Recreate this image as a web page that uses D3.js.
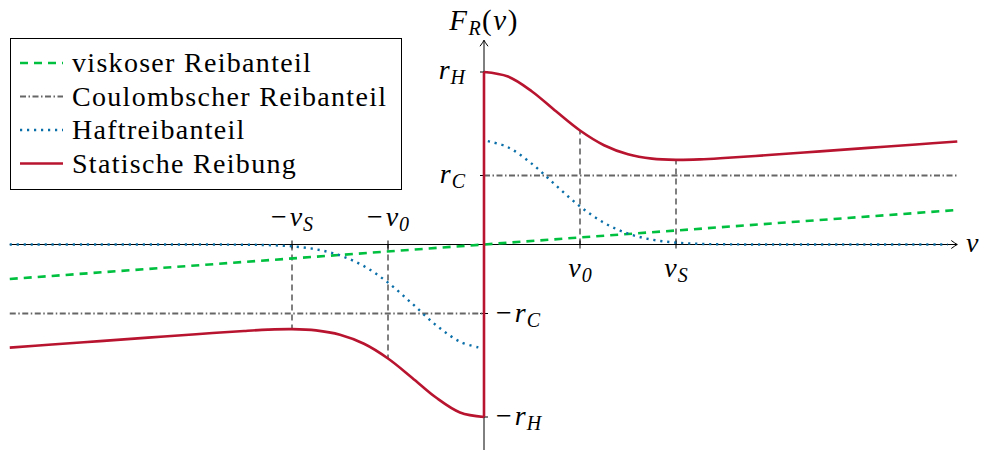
<!DOCTYPE html>
<html>
<head>
<meta charset="utf-8">
<script src="https://cdn.jsdelivr.net/npm/d3@7"></script>
<style>
  body { margin: 0; background: #fff; }
  svg { display: block; }
</style>
</head>
<body>
<svg id="chart"></svg>
<script>
// ---- data (v in units of v0, force in units of r_C) ----
const v0 = 1, vS = 2, rC = 1, rH = 2.5;

const vViskos = [-4.94, 4.93];
const fViskos = [-0.5, 0.5];

const vCoulLeft = [-4.94, 0];
const fCoulLeft = [-1, -1];
const vCoulRight = [0, 4.93];
const fCoulRight = [1, 1];

const vHaftLeft = [-4.94, -4, -3, -2.5, -2.25, -2, -1.75, -1.5, -1.25, -1, -0.75, -0.5, -0.25, -0.04];
const fHaftLeft = [0, 0, 0, -0.003, -0.009, -0.027, -0.070, -0.158, -0.314, -0.552, -0.855, -1.168, -1.409, -1.498];
const vHaftRight = [0.04, 0.25, 0.5, 0.75, 1, 1.25, 1.5, 1.75, 2, 2.25, 2.5, 3, 4, 4.83];
const fHaftRight = [1.498, 1.409, 1.168, 0.855, 0.552, 0.314, 0.158, 0.070, 0.027, 0.009, 0.003, 0, 0, 0];

const vStatLeft = [-4.94, -4.5, -4, -3.5, -3, -2.5, -2.25, -2, -1.75, -1.5, -1.25, -1, -0.75, -0.5, -0.25, 0];
const fStatLeft = [-1.494, -1.450, -1.400, -1.350, -1.300, -1.253, -1.234, -1.227, -1.245, -1.308, -1.439, -1.652, -1.930, -2.218, -2.434, -2.5];
const vStatRight = [0, 0.25, 0.5, 0.75, 1, 1.25, 1.5, 1.75, 2, 2.25, 2.5, 3, 3.5, 4, 4.5, 4.93];
const fStatRight = [2.5, 2.434, 2.218, 1.930, 1.652, 1.439, 1.308, 1.245, 1.227, 1.234, 1.253, 1.300, 1.350, 1.400, 1.450, 1.493];

// dashed helper lines: position on v axis and where they meet the red curve
const guideV = [-2, -1, 1, 2];
const guideF = [-1.227, -1.652, 1.652, 1.227];

// tick labels
const xTickLabels = [
  { v: -vS, main: "−v", sub: "S", above: true },
  { v: -v0, main: "−v", sub: "0", above: true },
  { v: v0, main: "v", sub: "0", above: false },
  { v: vS, main: "v", sub: "S", above: false }
];
const yTickLabels = [
  { f: rH, main: "r", sub: "H", left: true },
  { f: rC, main: "r", sub: "C", left: true },
  { f: -rC, main: "−r", sub: "C", left: false },
  { f: -rH, main: "−r", sub: "H", left: false }
];

const legendItems = [
  { label: "viskoser Reibanteil", color: "#00c040", dash: "8,6", width: 2.6 },
  { label: "Coulombscher Reibanteil", color: "#666666", dash: "6,2.5,1.5,2.5", width: 2.2 },
  { label: "Haftreibanteil", color: "#0a6fa8", dash: "2.2,4.8", width: 2.4 },
  { label: "Statische Reibung", color: "#b8142f", dash: null, width: 2.6 }
];

// ---- layout ----
const width = 984, height = 450;
const FONT = "'Liberation Serif', 'DejaVu Serif', 'Times New Roman', Times, serif";
const svg = d3.select("#chart").attr("width", width).attr("height", height)
  .attr("font-family", FONT);

const x = d3.scaleLinear().domain([0, 2]).range([484, 676]);
const y = d3.scaleLinear().domain([0, 1]).range([244.5, 175.5]);

const line = d3.line().x(d => x(d[0])).y(d => y(d[1]));
const smooth = d3.line().x(d => x(d[0])).y(d => y(d[1])).curve(d3.curveCatmullRom.alpha(0.5));
const zip = (a, b) => a.map((v, i) => [v, b[i]]);

// ---- axes ----
const axes = svg.append("g").attr("stroke", "#000").attr("fill", "none").attr("stroke-width", 1);
const xEnd = x(4.93), yTop = y(2.96);
axes.append("line").attr("x1", x(-4.94)).attr("x2", xEnd).attr("y1", y(0)).attr("y2", y(0));
axes.append("line").attr("x1", x(0)).attr("x2", x(0)).attr("y1", height).attr("y2", yTop);
// arrow heads
axes.append("path")
  .attr("d", `M${xEnd - 6},${y(0) - 4} Q${xEnd - 2},${y(0) - 1} ${xEnd},${y(0)} Q${xEnd - 2},${y(0) + 1} ${xEnd - 6},${y(0) + 4}`);
axes.append("path")
  .attr("d", `M${x(0) - 4},${yTop + 6} Q${x(0) - 1},${yTop + 2} ${x(0)},${yTop} Q${x(0) + 1},${yTop + 2} ${x(0) + 4},${yTop + 6}`);

// ticks
guideV.forEach(v => {
  axes.append("line").attr("x1", x(v)).attr("x2", x(v)).attr("y1", y(0) - 4).attr("y2", y(0) + 4);
});
yTickLabels.forEach(t => {
  axes.append("line").attr("x1", x(0) - 4).attr("x2", x(0) + 4).attr("y1", y(t.f)).attr("y2", y(t.f));
});

// guide lines
guideV.forEach((v, i) => {
  svg.append("line")
    .attr("x1", x(v)).attr("x2", x(v))
    .attr("y1", y(0)).attr("y2", y(guideF[i]))
    .attr("stroke", "#000").attr("stroke-width", 1)
    .attr("stroke-dasharray", "6,4");
});

// ---- series ----
function drawSeries(pts, item, curve) {
  const p = svg.append("path")
    .attr("d", (curve ? smooth : line)(pts))
    .attr("fill", "none")
    .attr("stroke", item.color)
    .attr("stroke-width", item.width);
  if (item.dash) p.attr("stroke-dasharray", item.dash);
  return p;
}

drawSeries(zip(vViskos, fViskos), legendItems[0], false);
drawSeries(zip(vCoulLeft, fCoulLeft), legendItems[1], false);
drawSeries(zip(vCoulRight, fCoulRight), legendItems[1], false);
drawSeries(zip(vHaftLeft, fHaftLeft), legendItems[2], true);
drawSeries(zip(vHaftRight, fHaftRight), legendItems[2], true);
drawSeries(zip(vStatLeft, fStatLeft), legendItems[3], true);
drawSeries([[0, -rH], [0, rH]], legendItems[3], false);
drawSeries(zip(vStatRight, fStatRight), legendItems[3], true);

// ---- labels ----
const fs = 28, subFs = 20;
function mathLabel(g, xPos, yPos, anchor, main, sub) {
  const t = g.append("text")
    .attr("x", xPos).attr("y", yPos)
    .attr("text-anchor", anchor)
    .attr("font-family", FONT)
    .attr("font-size", fs);
  const parts = main.split("−");
  if (main.startsWith("−")) t.append("tspan").text("−").attr("dx", 0);
  t.append("tspan").attr("font-style", "italic").attr("dx", main.startsWith("−") ? 3 : 0)
    .text(parts[parts.length - 1]);
  if (sub) {
    t.append("tspan").attr("font-style", "italic").attr("font-size", subFs).attr("dy", 5).attr("dx", 1).text(sub);
  }
  return t;
}

const labels = svg.append("g");
xTickLabels.forEach(t => {
  mathLabel(labels, x(t.v), t.above ? y(0) - 19 : y(0) + 32, "middle", t.main, t.sub);
});
yTickLabels.forEach(t => {
  if (t.left) mathLabel(labels, x(0) - 19, y(t.f) + 7, "end", t.main, t.sub);
  else mathLabel(labels, x(0) + 12, y(t.f) + 8, "start", t.main, t.sub);
});

// axis labels
labels.append("text").attr("x", 966).attr("y", y(0) + 7).attr("font-size", fs)
  .attr("font-family", FONT).attr("font-style", "italic").text("v");
const fLab = labels.append("text").attr("x", x(0), 0).attr("y", 30)
  .attr("text-anchor", "middle").attr("font-size", fs + 1).attr("font-family", FONT)
  .attr("letter-spacing", 1.5);
fLab.append("tspan").attr("font-style", "italic").text("F");
fLab.append("tspan").attr("font-style", "italic").attr("font-size", subFs).attr("dy", 5).text("R");
fLab.append("tspan").attr("dy", -5).text("(");
fLab.append("tspan").attr("font-style", "italic").text("v");
fLab.append("tspan").text(")");

// ---- legend ----
const legend = svg.append("g");
legend.append("rect")
  .attr("x", 10.5).attr("y", 38.5).attr("width", 391).attr("height", 151)
  .attr("fill", "#fff").attr("stroke", "#000").attr("stroke-width", 1);
legendItems.forEach((item, i) => {
  const cy = 63 + i * 33.5;
  const l = legend.append("line")
    .attr("x1", 20).attr("x2", 63).attr("y1", cy).attr("y2", cy)
    .attr("stroke", item.color).attr("stroke-width", item.width);
  if (item.dash) l.attr("stroke-dasharray", item.dash);
  legend.append("text")
    .attr("x", 72).attr("y", cy + 9)
    .attr("font-family", FONT)
    .attr("font-size", fs)
    .attr("letter-spacing", 1.3)
    .text(item.label);
});
</script>
</body>
</html>
